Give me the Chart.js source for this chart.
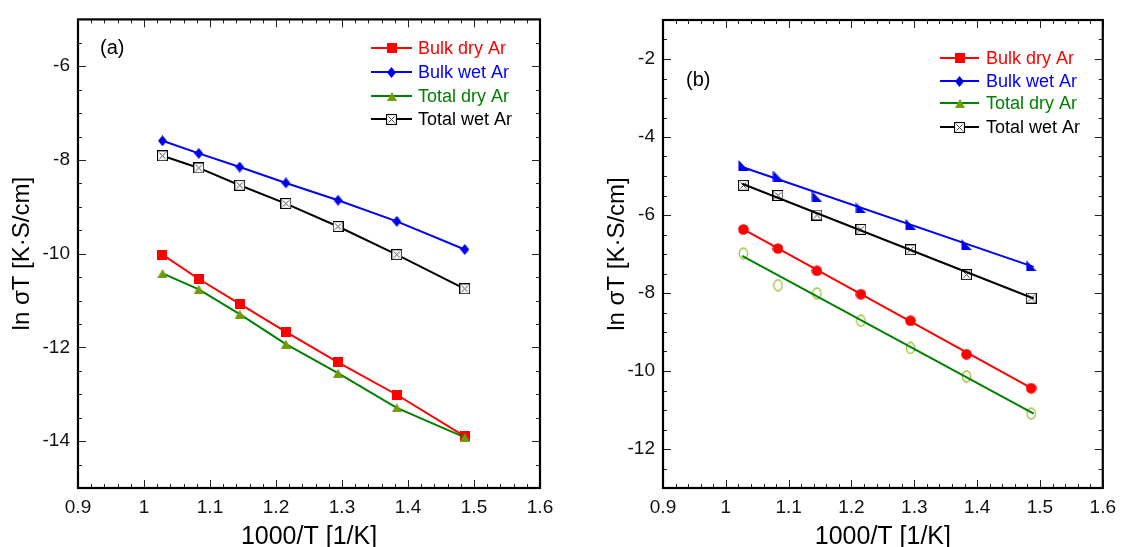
<!DOCTYPE html>
<html>
<head>
<meta charset="utf-8">
<script src="https://cdn.jsdelivr.net/npm/chart.js@4.4.1/dist/chart.umd.min.js"></script>
<style>
  body { margin: 0; background: #fff; }
  #wrap { position: relative; width: 1124px; height: 547px; overflow: hidden; }
  canvas { position: absolute; top: 0; }
  #chartA { left: 0; }
  #chartB { left: 562px; }
</style>
</head>
<body>
<div id="wrap">
  <canvas id="chartA" width="562" height="547"></canvas>
  <canvas id="chartB" width="562" height="547"></canvas>
</div>
<script>
// x values: 1000/T [1/K]
const invT = [1.028, 1.083, 1.145, 1.215, 1.294, 1.383, 1.486];

// panel (a)
const bulkDryA  = [-10.02, -10.54, -11.07, -11.67, -12.32, -13.01, -13.90];
const bulkWetA  = [-7.59, -7.86, -8.15, -8.49, -8.86, -9.31, -9.91];
const totalDryA = [-10.42, -10.76, -11.29, -11.93, -12.55, -13.29, -13.92];
const totalWetA = [-7.91, -8.17, -8.54, -8.93, -9.42, -10.02, -10.75];

// panel (b) points
const bulkDryB  = [-6.37, -6.86, -7.43, -8.03, -8.71, -9.57, -10.44];
const bulkWetB  = [-4.73, -5.00, -5.53, -5.82, -6.24, -6.76, -7.30];
const totalDryB = [-6.99, -7.80, -8.01, -8.71, -9.41, -10.14, -11.09];
const totalWetB = [-5.24, -5.50, -6.00, -6.37, -6.89, -7.53, -8.13];

// panel (b) fitted lines (end points)
const fitX         = [1.026, 1.490];
const fitBulkDryB  = [-6.35, -10.47];
const fitBulkWetB  = [-4.77, -7.33];
const fitTotalDryB = [-7.05, -11.09];
const fitTotalWetB = [-5.20, -8.14];

// axes
const xTicks  = [0.9, 1.0, 1.1, 1.2, 1.3, 1.4, 1.5, 1.6];
const yTicksA = [-14, -12, -10, -8, -6];
const yTicksB = [-12, -10, -8, -6, -4, -2];

const seriesNames = ['Bulk dry Ar', 'Bulk wet Ar', 'Total dry Ar', 'Total wet Ar'];
const seriesColors = ['#ff0000', '#0000ff', '#008000', '#000000'];

Chart.defaults.font.family = "'Liberation Sans', Arial, sans-serif";
Chart.defaults.color = '#111';

// little marker images, used by points and by the key
function makeMarker(kind) {
    const c = document.createElement('canvas');
    const g = c.getContext('2d');
    if (kind === 'square') {
        c.width = 10; c.height = 10;
        g.fillStyle = '#ff0000';
        g.fillRect(0, 0, 10, 10);
    } else if (kind === 'diamond') {
        c.width = 9; c.height = 11;
        g.fillStyle = '#0000ee';
        g.beginPath();
        g.moveTo(4.5, 0); g.lineTo(9, 5.5); g.lineTo(4.5, 11); g.lineTo(0, 5.5);
        g.closePath(); g.fill();
    } else if (kind === 'triangle') {
        c.width = 10; c.height = 9;
        g.fillStyle = '#6f9d0a';
        g.beginPath();
        g.moveTo(5, 0); g.lineTo(10, 9); g.lineTo(0, 9);
        g.closePath(); g.fill();
    } else if (kind === 'xbox') {
        c.width = 11; c.height = 11;
        g.fillStyle = '#fff';
        g.fillRect(0, 0, 11, 11);
        g.strokeStyle = '#000';
        g.lineWidth = 1.2;
        g.strokeRect(0.5, 0.5, 10, 10);
        g.strokeStyle = '#444';
        g.lineWidth = 1;
        g.beginPath();
        g.moveTo(2.5, 2.5); g.lineTo(8.5, 8.5);
        g.moveTo(8.5, 2.5); g.lineTo(2.5, 8.5);
        g.stroke();
    } else if (kind === 'dot') {
        c.width = 11; c.height = 11;
        g.fillStyle = '#ff0000';
        g.beginPath();
        g.arc(5.5, 5.5, 5.3, 0, Math.PI * 2);
        g.fill();
    } else if (kind === 'flag') {
        c.width = 11; c.height = 11;
        g.fillStyle = '#0000ee';
        g.beginPath();
        g.moveTo(0.5, 0); g.lineTo(0.5, 11); g.lineTo(11, 11);
        g.closePath(); g.fill();
    } else if (kind === 'ring') {
        c.width = 11; c.height = 13;
        g.strokeStyle = '#9cc43c';
        g.lineWidth = 1.3;
        g.beginPath();
        g.ellipse(5.5, 6.5, 4.2, 5.5, 0, 0, Math.PI * 2);
        g.stroke();
    }
    return c;
}

const keyMarkers = [makeMarker('square'), makeMarker('diamond'), makeMarker('triangle'), makeMarker('xbox')];

function pts(xs, ys) {
    return xs.map((x, i) => ({ x: x, y: ys[i] }));
}

// box, inward ticks on all four sides, key and panel letter
const framePlugin = {
    id: 'frame',
    afterDraw(chart, args, opts) {
        const ctx = chart.ctx;
        const { left, right, top, bottom } = chart.chartArea;
        const xs = chart.scales.x, ys = chart.scales.y;
        ctx.save();
        ctx.strokeStyle = '#222';
        ctx.lineWidth = 1;
        ctx.beginPath();
        for (let k = 0; ; k++) {
            const v = xs.min + k * opts.xMinor;
            if (v > xs.max + 1e-9) break;
            const px = Math.round(xs.getPixelForValue(v)) + 0.5;
            const major = Math.abs(v / opts.xMajor - Math.round(v / opts.xMajor)) < 1e-6;
            const len = major ? 8 : 4;
            ctx.moveTo(px, bottom); ctx.lineTo(px, bottom - len);
            ctx.moveTo(px, top); ctx.lineTo(px, top + len);
        }
        for (let k = 0; ; k++) {
            const v = ys.min + k * opts.yMinor;
            if (v > ys.max + 1e-9) break;
            const py = Math.round(ys.getPixelForValue(v)) + 0.5;
            const major = Math.abs(v / opts.yMajor - Math.round(v / opts.yMajor)) < 1e-6;
            const len = major ? 8 : 4;
            ctx.moveTo(left, py); ctx.lineTo(left + len, py);
            ctx.moveTo(right, py); ctx.lineTo(right - len, py);
        }
        ctx.stroke();

        ctx.strokeStyle = '#000';
        ctx.lineWidth = 2.2;
        ctx.strokeRect(left, top, right - left, bottom - top);

        // panel letter
        ctx.fillStyle = '#000';
        ctx.font = "20px 'Liberation Sans', Arial, sans-serif";
        ctx.textBaseline = 'middle';
        ctx.textAlign = 'left';
        ctx.fillText(opts.letter, opts.letterX, opts.letterY);

        // key
        ctx.font = "18px 'Liberation Sans', Arial, sans-serif";
        seriesNames.forEach(function(name, i) {
            const y = opts.keyY[i];
            ctx.strokeStyle = seriesColors[i];
            ctx.lineWidth = 2;
            ctx.beginPath();
            ctx.moveTo(opts.keyX1, y); ctx.lineTo(opts.keyX2, y);
            ctx.stroke();
            const m = keyMarkers[i];
            const mx = (opts.keyX1 + opts.keyX2) / 2;
            ctx.drawImage(m, Math.round(mx - m.width / 2), Math.round(y - m.height / 2));
            ctx.fillStyle = seriesColors[i];
            ctx.fillText(name, opts.keyText, y + 1);
        });
        ctx.restore();
    }
};

function axes(yMin, yMax, yTicks, yWidth, yTitlePad) {
    return {
        x: {
            type: 'linear', min: 0.9, max: 1.6,
            afterBuildTicks: s => { s.ticks = xTicks.map(v => ({ value: v })); },
            afterFit: s => { s.height = 59; },
            grid: { display: false, drawTicks: false },
            border: { display: false },
            ticks: {
                autoSkip: false, maxRotation: 0, padding: 8,
                font: { size: 19 },
                callback: v => String(+v.toFixed(1))
            },
            title: {
                display: true, text: '1000/T [1/K]', color: '#000',
                font: { size: 25 }, padding: { top: 0, bottom: -5 }
            }
        },
        y: {
            type: 'linear', min: yMin, max: yMax,
            afterBuildTicks: s => { s.ticks = yTicks.map(v => ({ value: v })); },
            afterFit: s => { s.width = yWidth; },
            grid: { display: false, drawTicks: false },
            border: { display: false },
            ticks: { autoSkip: false, padding: 8, font: { size: 19 } },
            title: {
                display: true, text: 'ln \u03c3T [K\u00b7S/cm]', color: '#000',
                font: { size: 24 }, padding: { top: yTitlePad, bottom: 0 }
            }
        }
    };
}

function lineSet(data, color, marker, showLine) {
    return {
        data: data,
        showLine: showLine,
        borderColor: color,
        borderWidth: 2,
        backgroundColor: color,
        pointStyle: marker || false,
        pointRadius: marker ? 5 : 0,
        tension: 0,
        clip: false
    };
}

new Chart(document.getElementById('chartA'), {
    type: 'scatter',
    data: {
        datasets: [
            lineSet(pts(invT, totalDryA), '#008000', makeMarker('triangle'), true),
            lineSet(pts(invT, bulkDryA), '#ff0000', makeMarker('square'), true),
            lineSet(pts(invT, totalWetA), '#000000', makeMarker('xbox'), true),
            lineSet(pts(invT, bulkWetA), '#0000ff', makeMarker('diamond'), true)
        ]
    },
    options: {
        responsive: false,
        animation: false,
        layout: { padding: { left: 0, top: 16, right: 22, bottom: 0 } },
        scales: axes(-15, -5, yTicksA, 78, 8),
        plugins: {
            legend: { display: false },
            tooltip: { enabled: false },
            frame: {
                xMinor: 0.02, xMajor: 0.1, yMinor: 0.5, yMajor: 2,
                letter: '(a)', letterX: 100, letterY: 48,
                keyX1: 371, keyX2: 412, keyText: 418, keyY: [48, 72, 96, 119]
            }
        }
    },
    plugins: [framePlugin]
});

new Chart(document.getElementById('chartB'), {
    type: 'scatter',
    data: {
        datasets: [
            lineSet(pts(fitX, fitTotalDryB), '#008000', null, true),
            lineSet(pts(fitX, fitBulkDryB), '#ff0000', null, true),
            lineSet(pts(fitX, fitTotalWetB), '#000000', null, true),
            lineSet(pts(fitX, fitBulkWetB), '#0000ff', null, true),
            lineSet(pts(invT, totalDryB), '#9cc43c', makeMarker('ring'), false),
            lineSet(pts(invT, bulkDryB), '#ff0000', makeMarker('dot'), false),
            lineSet(pts(invT, totalWetB), '#000000', makeMarker('xbox'), false),
            lineSet(pts(invT, bulkWetB), '#0000ee', makeMarker('flag'), false)
        ]
    },
    options: {
        responsive: false,
        animation: false,
        layout: { padding: { left: 0, top: 20, right: 16, bottom: 0 } },
        scales: axes(-13, -1, yTicksB, 101, 41),
        plugins: {
            legend: { display: false },
            tooltip: { enabled: false },
            frame: {
                xMinor: 0.02, xMajor: 0.1, yMinor: 0.5, yMajor: 2,
                letter: '(b)', letterX: 124, letterY: 80,
                keyX1: 378, keyX2: 417, keyText: 424, keyY: [58, 81, 103, 127]
            }
        }
    },
    plugins: [framePlugin]
});
</script>
</body>
</html>
